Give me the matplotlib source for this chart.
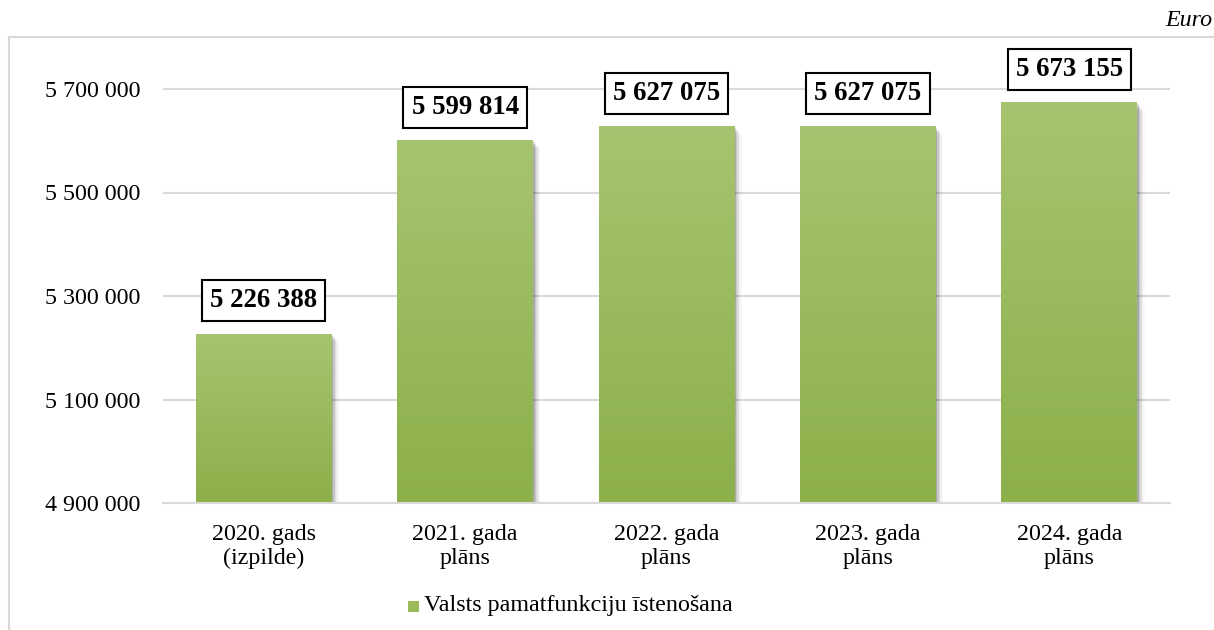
import numpy as np
import matplotlib
matplotlib.use("Agg")
import matplotlib.pyplot as plt
from matplotlib.patches import Rectangle
from matplotlib.colors import LinearSegmentedColormap

plt.rcParams['font.family'] = ['Liberation Serif', 'DejaVu Serif']

# data
categories = ["2020. gads\n(izpilde)", "2021. gada\nplāns", "2022. gada\nplāns",
              "2023. gada\nplāns", "2024. gada\nplāns"]
values = [5226388, 5599814, 5627075, 5627075, 5673155]
series_name = "Valsts pamatfunkciju īstenošana"
yticks = [4900000, 5100000, 5300000, 5500000, 5700000]

def fmt(v):
    return f"{v:,}".replace(",", " ")

fig = plt.figure(figsize=(12.14, 6.3), dpi=100)
W, H = 1214, 630
fs = 17.3

# chart area border (cropped at right/bottom)
fig.patches.append(Rectangle((9 / W, -0.05), 1.1, 1 - 37 / H + 0.05, transform=fig.transFigure,
                             fill=False, edgecolor="#d9d9d9", linewidth=1.5, zorder=0))

ymin, ymax = 4900000, 5760000
bottom_px, top_px = 503, 503 - (ymax - ymin) / 800000 * 414
ax = fig.add_axes([163 / W, 1 - bottom_px / H, (1170 - 163) / W, (bottom_px - top_px) / H])

for s in ["top", "right", "left"]:
    ax.spines[s].set_visible(False)
ax.spines["bottom"].set_color("#d9d9d9")
ax.spines["bottom"].set_linewidth(1.5)
ax.set_yticks(yticks)
ax.set_yticklabels([fmt(t) for t in yticks], fontsize=fs)
ax.set_xticks(range(len(categories)))
ax.set_xticklabels(categories, fontsize=fs, linespacing=1.2)
ax.tick_params(axis="y", length=0, pad=16)
ax.tick_params(axis="x", length=0, pad=15)
ax.grid(axis="y", color="#d9d9d9", linewidth=1.5)
ax.set_axisbelow(True)

cmap = LinearSegmentedColormap.from_list("g", ["#8cb04a", "#a6c46f"])
grad = np.linspace(0, 1, 256).reshape(-1, 1)
width = 0.675
ax.bar(range(len(values)), values, width=width, color="#9bbb59", zorder=2)
for i, v in enumerate(values):
    x0 = i - width / 2
    # soft shadow on the right
    for k, a in enumerate([0.14, 0.10, 0.07, 0.04, 0.02]):
        ax.add_patch(Rectangle((x0 + 0.008 + 0.007 * k, ymin), width, v - ymin - 3000 * (k + 1),
                               facecolor="black", alpha=a, linewidth=0, zorder=1.5))
    ax.imshow(grad, cmap=cmap, aspect="auto", origin="lower",
              extent=[x0, x0 + width, ymin, v], zorder=2.5)
    ax.annotate(fmt(v), (i, v), xytext=(0, 24), textcoords="offset points",
                ha="center", va="center", fontsize=19.3, fontweight="bold",
                bbox=dict(boxstyle="square,pad=0.3", facecolor="white", edgecolor="black",
                          linewidth=1.5), zorder=4)
ax.set_xlim(-0.5, len(values) - 0.5)
ax.set_ylim(ymin, ymax)

# legend
fig.patches.append(Rectangle((408 / W, 1 - 612 / H), 11 / W, 11 / H, transform=fig.transFigure,
                             facecolor="#9bbb59", edgecolor="none"))
fig.text(424 / W, 1 - 606 / H, series_name, fontsize=fs, va="center", ha="left")

fig.text(1212 / W, 1 - 20 / H, "Euro", fontsize=fs, style="italic", ha="right", va="center")

fig.savefig("out.png", dpi=100)
